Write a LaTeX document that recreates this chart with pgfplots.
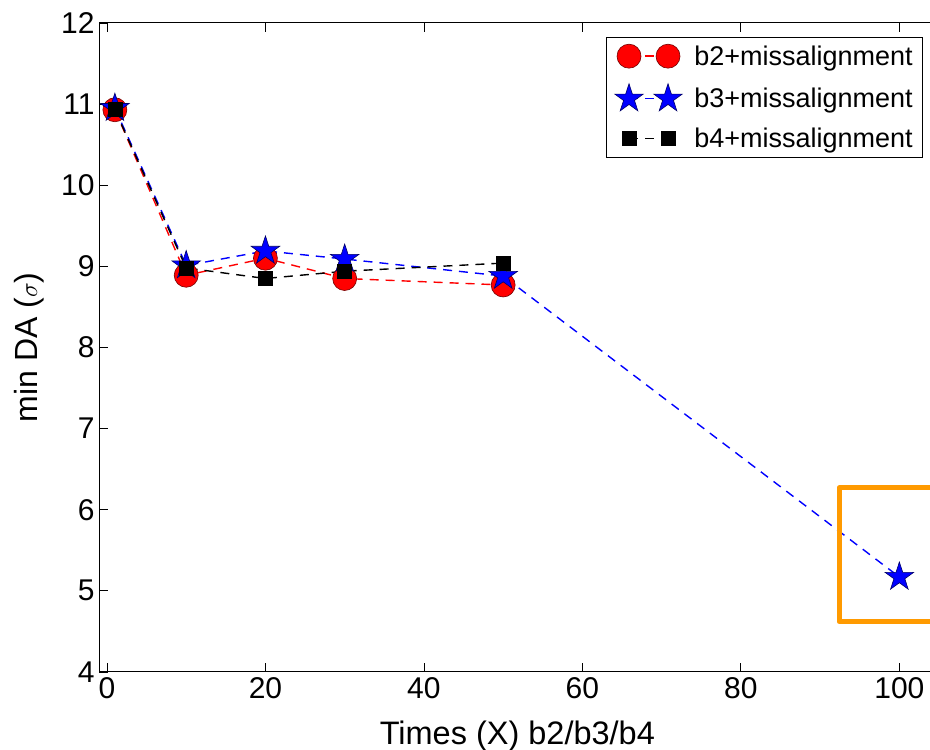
\documentclass[border=0pt]{standalone}
\usepackage{pgfplots}
\pgfplotsset{compat=1.18}
\usepackage{fontspec}
\setmainfont{Liberation Sans}
\definecolor{myorange}{HTML}{FF9A00}
\pgfdeclareplotmark{fstar}{%
  \pgfpathmoveto{\pgfqpointpolar{90}{\pgfplotmarksize}}%
  \pgfpathlineto{\pgfqpointpolar{126}{0.382\pgfplotmarksize}}%
  \pgfpathlineto{\pgfqpointpolar{162}{\pgfplotmarksize}}%
  \pgfpathlineto{\pgfqpointpolar{198}{0.382\pgfplotmarksize}}%
  \pgfpathlineto{\pgfqpointpolar{234}{\pgfplotmarksize}}%
  \pgfpathlineto{\pgfqpointpolar{270}{0.382\pgfplotmarksize}}%
  \pgfpathlineto{\pgfqpointpolar{306}{\pgfplotmarksize}}%
  \pgfpathlineto{\pgfqpointpolar{342}{0.382\pgfplotmarksize}}%
  \pgfpathlineto{\pgfqpointpolar{18}{\pgfplotmarksize}}%
  \pgfpathlineto{\pgfqpointpolar{54}{0.382\pgfplotmarksize}}%
  \pgfpathclose
  \pgfusepathqfillstroke}
\begin{document}
\begin{tikzpicture}
\begin{axis}[
  scale only axis,
  width=840pt, height=649pt,
  xmin=-1, xmax=105, ymin=4, ymax=12,
  xtick={0,20,40,60,80,100},
  ytick={4,5,6,7,8,9,10,11,12},
  tick align=inside,
  major tick length=9pt,
  tick style={black, line width=0.8pt},
  axis line style={black, line width=1pt},
  /pgf/number format/assume math mode=true,
  ticklabel style={font=\fontsize{30}{34}\selectfont},
  xticklabel style={yshift=-2pt},
  yticklabel style={xshift=-1pt},
  xlabel={Times (X) b2/b3/b4},
  ylabel={min DA ($\sigma$)},
  every axis x label/.style={at={(rel axis cs:0.498,-0.1125)}, anchor=base, font=\fontsize{32.5}{36}\selectfont},
  every axis y label/.style={at={(rel axis cs:-0.0738,0.5)}, rotate=90, anchor=base, font=\fontsize{32}{36}\selectfont},
  clip=false,
  legend cell align=left,
  legend style={at={(rel axis cs:0.981,0.978)}, anchor=north east,
    font=\fontsize{27}{30}\selectfont, draw=black, line width=0.8pt,
    inner xsep=8pt, inner ysep=6pt, row sep=15pt, column sep=10pt,
    nodes={inner xsep=2pt}},
  legend image code/.code={\draw[#1] plot coordinates {(0pt,0pt) (39pt,0pt)};},
]
\addplot[red, line width=1.4pt, dash pattern=on 9pt off 7pt,
  mark=*, mark size=12pt, mark options={solid, fill=red, draw=black!55!red, line width=0.6pt}]
  coordinates {(1,10.93) (10,8.89) (20,9.10) (30,8.85) (50,8.77)};
\addlegendentry{b2+missalignment}
\addplot[blue, line width=1.4pt, dash pattern=on 9pt off 7pt,
  mark=fstar, mark size=15pt, mark options={solid, fill=blue, draw=black!60!blue, line width=0.6pt}]
  coordinates {(1,10.95) (10,9.01) (20,9.19) (30,9.09) (50,8.88) (100,5.17)};
\addlegendentry{b3+missalignment}
\addplot[black, line width=1.4pt, dash pattern=on 9pt off 7pt,
  mark=square*, mark size=7pt, mark options={solid, fill=black, draw=black, line width=0.6pt}]
  coordinates {(1,10.93) (10,8.98) (20,8.85) (30,8.94) (50,9.04)};
\addlegendentry{b4+missalignment}
\draw[myorange, line width=5pt, line join=round] (axis cs:92.4,4.62) rectangle (axis cs:110,6.27);
\coordinate (bbsw) at (rel axis cs:-0.1179,-0.1202);
\coordinate (bbne) at (rel axis cs:0.9893,1.0354);
\end{axis}
\pgfresetboundingbox
\useasboundingbox (bbsw) rectangle (bbne);
\end{tikzpicture}
\end{document}
